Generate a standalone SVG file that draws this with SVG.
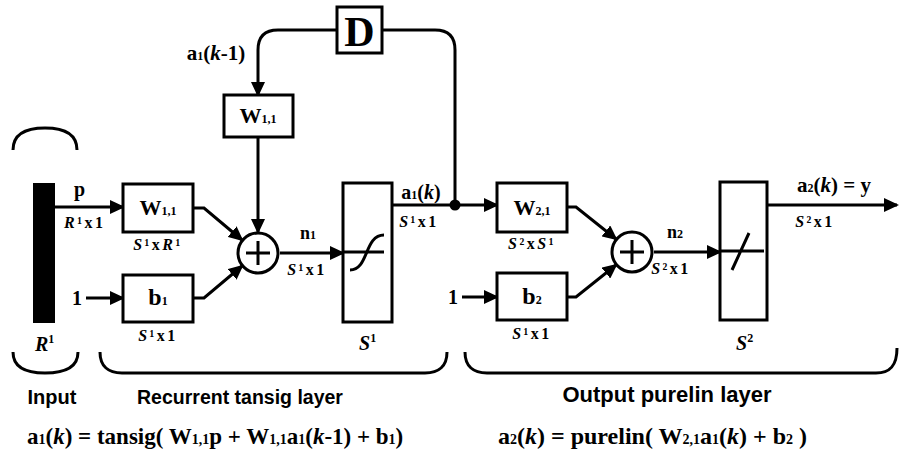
<svg xmlns="http://www.w3.org/2000/svg" width="899" height="470" viewBox="0 0 899 470">
<defs>
<style>
.box{fill:#fff;stroke:#000;stroke-width:3}
.ln{fill:none;stroke:#000;stroke-width:3}
.t{font-family:"Liberation Serif","Times New Roman",serif;font-weight:bold;fill:#000}
.s{font-family:"Liberation Sans",Arial,sans-serif;font-weight:bold;fill:#000}
.d{font-size:16px;letter-spacing:2.5px}
.i{font-style:italic}
.sb{font-size:12px}
.eq{font-size:14px}
</style>
<marker id="ah" markerWidth="16" markerHeight="14" refX="13" refY="7" orient="auto" markerUnits="userSpaceOnUse">
<path d="M0,0 L15,7 L0,14 z" fill="#000"/>
</marker>
</defs>
<rect width="899" height="470" fill="#fff"/>

<g id="connectors">
<line class="ln" x1="55" y1="207" x2="123" y2="207" marker-end="url(#ah)"/>
<line class="ln" x1="86" y1="298" x2="123" y2="298" marker-end="url(#ah)"/>
<polyline class="ln" points="193,208 204,208 242,240" marker-end="url(#ah)"/>
<polyline class="ln" points="193,298 204,298 242,266" marker-end="url(#ah)"/>
<line class="ln" x1="258" y1="137" x2="258" y2="232" marker-end="url(#ah)"/>
<line class="ln" x1="280" y1="253" x2="343" y2="253" marker-end="url(#ah)"/>
<line class="ln" x1="392" y1="205" x2="497" y2="205" marker-end="url(#ah)"/>
<path class="ln" d="M455,205 L455,50 Q455,30 435,30 L382,30"/>
<path class="ln" d="M337,30 L278,30 Q258,30 258,50 L258,95" marker-end="url(#ah)"/>
<circle cx="455" cy="205" r="5.5" fill="#000"/>
<line class="ln" x1="462" y1="297" x2="497" y2="297" marker-end="url(#ah)"/>
<polyline class="ln" points="567,207 576,207 616,239" marker-end="url(#ah)"/>
<polyline class="ln" points="567,297 576,297 616,265" marker-end="url(#ah)"/>
<line class="ln" x1="654" y1="252" x2="720" y2="252" marker-end="url(#ah)"/>
<line class="ln" x1="767" y1="205" x2="897" y2="205" marker-end="url(#ah)"/>
</g>

<g id="input">
<rect x="33" y="183" width="22" height="140" fill="#000"/>
<path class="ln" d="M13,150 C13,135 25,128 45,128 C65,128 77,135 77,150"/>
<path class="ln" d="M13,352 C13,367 25,373 45,373 C65,373 78,367 78,352"/>
<text class="t" x="74" y="196" font-size="20">p</text>
<text class="t d" x="64" y="228"><tspan class="i">R</tspan>¹x1</text>
<text class="t i" x="35" y="351" font-size="20">R<tspan font-style="normal" font-size="12" dy="-8">1</tspan></text>
<text class="s" x="52" y="404" font-size="20" text-anchor="middle">Input</text>
</g>

<g id="W11_input">
<rect class="box" x="123" y="184" width="70" height="48"/>
<text class="t" x="158" y="215" font-size="22" text-anchor="middle">W<tspan class="sb">1,1</tspan></text>
<text class="t d" x="158" y="250" text-anchor="middle"><tspan class="i">S</tspan>¹x<tspan class="i">R</tspan>¹</text>
</g>

<g id="b1">
<text class="t" x="77" y="305" font-size="20" text-anchor="middle">1</text>
<rect class="box" x="123" y="275" width="70" height="47"/>
<text class="t" x="158" y="305" font-size="24" text-anchor="middle">b<tspan class="sb">1</tspan></text>
<text class="t d" x="158" y="341" text-anchor="middle"><tspan class="i">S</tspan>¹x1</text>
</g>

<g id="W11_rec">
<rect class="box" x="224" y="95" width="69" height="42"/>
<text class="t" x="258" y="123" font-size="22" text-anchor="middle">W<tspan class="sb">1,1</tspan></text>
<text class="t" x="216" y="60" font-size="21" text-anchor="middle">a<tspan class="sb">1</tspan>(<tspan class="i">k</tspan>-1)</text>
</g>

<g id="D">
<rect class="box" x="337" y="7" width="45" height="46"/>
<text class="t" x="359.5" y="46" font-size="42" text-anchor="middle">D</text>
</g>

<g id="sum1">
<circle class="box" cx="258" cy="253" r="20"/>
<path class="ln" d="M258,241 L258,265 M246,253 L270,253"/>
<text class="t" x="308" y="239" font-size="18" text-anchor="middle">n<tspan class="sb">1</tspan></text>
<text class="t d" x="307" y="275" text-anchor="middle"><tspan class="i">S</tspan>¹x1</text>
</g>

<g id="tansig">
<rect class="box" x="343" y="183" width="49" height="139"/>
<path class="ln" d="M343,252 L384,252"/>
<path class="ln" d="M350,270 C369,270 364,235 384,235"/>
<text class="t i" x="359" y="350" font-size="20">S<tspan font-style="normal" font-size="12" dy="-8">1</tspan></text>
<text class="t" x="421" y="199" font-size="20" text-anchor="middle">a<tspan class="sb">1</tspan>(<tspan class="i">k</tspan>)</text>
<text class="t d" x="419" y="227" text-anchor="middle"><tspan class="i">S</tspan>¹x1</text>
</g>

<g id="W21">
<rect class="box" x="497" y="183" width="70" height="49"/>
<text class="t" x="532" y="215" font-size="22" text-anchor="middle">W<tspan class="sb">2,1</tspan></text>
<text class="t d" x="532" y="249" text-anchor="middle"><tspan class="i">S</tspan>²x<tspan class="i">S</tspan>¹</text>
</g>

<g id="b2">
<text class="t" x="453" y="304" font-size="20" text-anchor="middle">1</text>
<rect class="box" x="497" y="273" width="70" height="47"/>
<text class="t" x="532" y="304" font-size="24" text-anchor="middle">b<tspan class="sb">2</tspan></text>
<text class="t d" x="532" y="339" text-anchor="middle"><tspan class="i">S</tspan>¹x1</text>
</g>

<g id="sum2">
<circle class="box" cx="632" cy="252" r="20"/>
<path class="ln" d="M632,240 L632,264 M620,252 L644,252"/>
<text class="t" x="675" y="238" font-size="18" text-anchor="middle">n<tspan class="sb">2</tspan></text>
<text class="t d" x="671" y="274" text-anchor="middle"><tspan class="i">S</tspan>²x1</text>
</g>

<g id="purelin">
<rect class="box" x="720" y="182" width="47" height="138"/>
<path class="ln" d="M720,251 L764,251 M732,270 L749,233"/>
<text class="t i" x="736" y="350" font-size="20">S<tspan font-style="normal" font-size="12" dy="-8">2</tspan></text>
<text class="t" x="834" y="192" font-size="21" text-anchor="middle">a<tspan class="sb">2</tspan>(<tspan class="i">k</tspan>) = y</text>
<text class="t d" x="815" y="227" text-anchor="middle"><tspan class="i">S</tspan>²x1</text>
</g>

<g id="braces">
<path class="ln" d="M100,352 C100,366 108,373 122,373 L425,373 C439,373 447,366 447,352"/>
<path class="ln" d="M465,352 C465,366 473,373 487,373 L876,373 C890,373 897,366 897,348"/>
<text class="s" x="240" y="404" font-size="19.5" text-anchor="middle">Recurrent tansig layer</text>
<text class="s" x="667" y="402" font-size="22" text-anchor="middle">Output purelin layer</text>
</g>

<g id="equations">
<text class="t" x="27" y="444" font-size="23">a<tspan class="eq">1</tspan>(<tspan class="i">k</tspan>) = tansig( W<tspan class="eq">1,1</tspan>p + W<tspan class="eq">1,1</tspan>a<tspan class="eq">1</tspan>(<tspan class="i">k</tspan>-1) + b<tspan class="eq">1</tspan>)</text>
<text class="t" x="498" y="444" font-size="24">a<tspan class="eq">2</tspan>(<tspan class="i">k</tspan>) = purelin( W<tspan class="eq">2,1</tspan>a<tspan class="eq">1</tspan>(<tspan class="i">k</tspan>) + b<tspan class="eq">2</tspan> )</text>
</g>
</svg>
